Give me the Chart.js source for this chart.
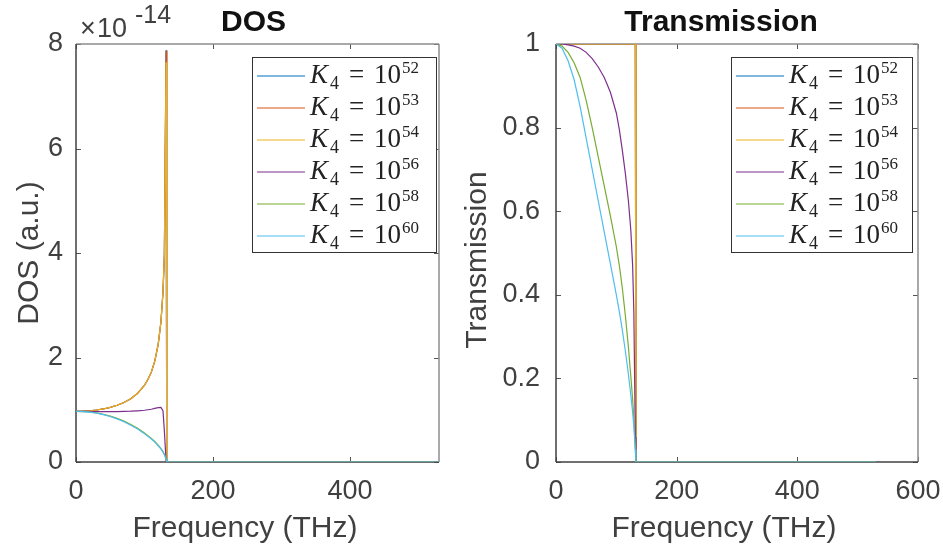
<!DOCTYPE html>
<html>
<head>
<meta charset="utf-8">
<script src="https://cdn.jsdelivr.net/npm/chart.js@4.4.1/dist/chart.umd.min.js"></script>
<style>
  html, body { margin: 0; padding: 0; background: #fff; }
  #wrap { position: relative; width: 943px; height: 549px; }
  .box { position: absolute; top: 0; height: 549px; }
  #leftBox { left: 0; width: 455px; }
  #rightBox { left: 455px; width: 488px; }
</style>
</head>
<body>
<div id="wrap">
  <div class="box" id="leftBox"><canvas id="dosChart"></canvas></div>
  <div class="box" id="rightBox"><canvas id="transChart"></canvas></div>
</div>
<script>
// frequency samples (THz), shared by every curve
const freq = [0, 10, 20, 30, 40, 50, 60, 70, 80, 90, 100, 105, 110, 115, 120, 124, 127, 129, 131.5, 132.5, 200, 300, 400, 530];

// K4 = 10^exp
const kExponents = [52, 53, 54, 56, 58, 60];
const lineColors = ['#0072BD', '#D95319', '#EDB120', '#7E2F8E', '#77AC30', '#4DBEEE'];

// DOS in units of 1e-14 (a.u.)
const dosExponent = -14;
const dos52 = [0.97, 0.972, 0.98, 0.995, 1.015, 1.045, 1.085, 1.14, 1.21, 1.315, 1.47, 1.58, 1.72, 1.93, 2.25, 2.68, 3.25, 3.95, 7.88, 0, 0, 0, 0, 0];
const dos53 = [0.97, 0.972, 0.98, 0.995, 1.015, 1.045, 1.085, 1.14, 1.21, 1.315, 1.47, 1.58, 1.72, 1.93, 2.25, 2.68, 3.25, 3.95, 7.87, 0, 0, 0, 0, 0];
const dos54 = [0.97, 0.972, 0.98, 0.995, 1.015, 1.045, 1.085, 1.14, 1.21, 1.315, 1.47, 1.58, 1.72, 1.93, 2.25, 2.68, 3.25, 3.95, 7.65, 0, 0, 0, 0, 0];
const dos56 = [0.97, 0.97, 0.968, 0.966, 0.965, 0.965, 0.966, 0.968, 0.972, 0.98, 0.99, 1.0, 1.01, 1.025, 1.04, 1.045, 0.98, 0.6, 0.02, 0, 0, 0, 0, 0];
const dos58 = [0.97, 0.966, 0.957, 0.94, 0.912, 0.878, 0.835, 0.782, 0.718, 0.645, 0.555, 0.505, 0.452, 0.392, 0.322, 0.258, 0.198, 0.15, 0.07, 0, 0, 0, 0, 0];
const dos60 = [0.97, 0.965, 0.955, 0.936, 0.906, 0.87, 0.825, 0.77, 0.705, 0.63, 0.54, 0.49, 0.44, 0.38, 0.31, 0.25, 0.19, 0.14, 0.06, 0, 0, 0, 0, 0];

// transmission
const trans52 = [1, 1, 1, 1, 1, 1, 1, 1, 1, 1, 1, 1, 1, 1, 1, 1, 1, 1, 1, 0, 0, 0, 0, 0];
const trans53 = [1, 1, 1, 1, 1, 1, 1, 1, 1, 1, 1, 1, 1, 1, 1, 1, 1, 1, 1, 0, 0, 0, 0, 0];
const trans54 = [1, 1, 1, 1, 1, 1, 1, 1, 1, 1, 1, 1, 1, 1, 1, 1, 1, 1, 1, 0, 0, 0, 0, 0];
const trans56 = [1, 1, 0.998, 0.995, 0.99, 0.98, 0.965, 0.945, 0.92, 0.885, 0.835, 0.795, 0.745, 0.69, 0.625, 0.555, 0.47, 0.36, 0.06, 0, 0, 0, 0, 0];
const trans58 = [1, 0.995, 0.98, 0.955, 0.92, 0.865, 0.8, 0.73, 0.66, 0.59, 0.515, 0.47, 0.415, 0.35, 0.275, 0.205, 0.15, 0.105, 0.03, 0, 0, 0, 0, 0];
const trans60 = [1, 0.99, 0.96, 0.915, 0.85, 0.775, 0.7, 0.625, 0.55, 0.475, 0.4, 0.36, 0.315, 0.265, 0.21, 0.16, 0.12, 0.085, 0.03, 0, 0, 0, 0, 0];

// axis ticks
const dosXTicks = [0, 200, 400];
const dosYTicks = [0, 2, 4, 6, 8];
const transXTicks = [0, 200, 400, 600];
const transYTicks = [0, 0.2, 0.4, 0.6, 0.8, 1];

const SANS = '"Liberation Sans", Arial, sans-serif';
const SERIF = '"Liberation Serif", "Times New Roman", serif';
const TEXT = '#404040';

function makeDatasets(series) {
  return series.map((ys, i) => ({
    label: 'K_4 = 10^' + kExponents[i],
    data: freq.map((f, j) => ({ x: f, y: ys[j] })),
    borderColor: lineColors[i],
    backgroundColor: lineColors[i],
    borderWidth: 1.2,
    pointRadius: 0,
    showLine: true,
    tension: 0,
    order: series.length - i   // later series drawn on top, like matlab
  }));
}

function line(ctx, x1, y1, x2, y2) {
  ctx.beginPath();
  ctx.moveTo(x1, y1);
  ctx.lineTo(x2, y2);
  ctx.stroke();
}

// matlab-like box, inward ticks, titles and legend
function matlabPlugin(cfg) {
  return {
    id: 'matlabLook',
    beforeDatasetsDraw(chart) {
      const { ctx, chartArea: a, scales } = chart;
      ctx.save();
      ctx.lineWidth = 1;
      ctx.strokeStyle = '#555';
      scales.x.ticks.forEach(t => {
        const px = Math.round(scales.x.getPixelForValue(t.value)) + 0.5;
        line(ctx, px, a.bottom, px, a.bottom - 5);
        line(ctx, px, a.top, px, a.top + 5);
      });
      scales.y.ticks.forEach(t => {
        const py = Math.round(scales.y.getPixelForValue(t.value)) + 0.5;
        line(ctx, a.left, py, a.left + 5, py);
        line(ctx, a.right, py, a.right - 5, py);
      });
      ctx.lineWidth = 1.5;
      ctx.strokeStyle = '#8c8c8c';
      line(ctx, a.left, a.top, a.right, a.top);
      line(ctx, a.right, a.top, a.right, a.bottom);
      ctx.strokeStyle = '#404040';
      line(ctx, a.left, a.top, a.left, a.bottom);
      line(ctx, a.left, a.bottom, a.right, a.bottom);
      ctx.restore();
    },
    afterDraw(chart) {
      const { ctx, chartArea: a } = chart;
      ctx.save();
      // title
      ctx.fillStyle = '#111';
      ctx.font = 'bold 30px ' + SANS;
      ctx.textAlign = 'center';
      ctx.textBaseline = 'alphabetic';
      ctx.fillText(cfg.title, cfg.titleX, 31);
      // x label
      ctx.fillStyle = TEXT;
      ctx.font = '30px ' + SANS;
      ctx.fillText('Frequency (THz)', cfg.xLabelX, 537);
      // y label
      ctx.save();
      ctx.translate(cfg.yLabelX, cfg.yLabelY);
      ctx.rotate(-Math.PI / 2);
      ctx.textBaseline = 'middle';
      ctx.fillText(cfg.yLabel, 0, 0);
      ctx.restore();
      // exponent label
      if (cfg.exponent) {
        ctx.textAlign = 'left';
        ctx.font = '27px ' + SANS;
        ctx.fillText('\u00d7', a.left + 4, 37);
        ctx.fillText('10', a.left + 21, 37);
        ctx.font = '25px ' + SANS;
        ctx.fillText(String(cfg.exponent), a.left + 59, 23);
      }
      // legend
      const bw = cfg.legendW, bh = 195;
      const bx = a.right - cfg.legendRight - bw, by = a.top + 13;
      ctx.fillStyle = '#fff';
      ctx.fillRect(bx, by, bw, bh);
      ctx.lineWidth = 1;
      ctx.strokeStyle = '#333';
      ctx.strokeRect(bx + 0.5, by + 0.5, bw, bh);
      chart.data.datasets.forEach((ds, i) => {
        const y = by + 19 + i * 32;
        ctx.strokeStyle = ds.borderColor;
        ctx.lineWidth = 1.2;
        line(ctx, bx + 5, y, bx + 53, y);
        const x = bx + 58, base = y + 7;
        ctx.fillStyle = '#222';
        ctx.textAlign = 'left';
        ctx.font = 'italic 27px ' + SERIF;
        ctx.fillText('K', x, base);
        ctx.font = '18px ' + SERIF;
        ctx.fillText('4', x + 20, base + 6);
        ctx.font = '27px ' + SERIF;
        ctx.fillText('=', x + 39, base);
        ctx.fillText('10', x + 64, base);
        ctx.font = '17px ' + SERIF;
        ctx.fillText(String(kExponents[i]), x + 92, base - 10);
      });
      ctx.restore();
    }
  };
}

function makeChart(canvasId, series, xMax, xTicks, yMax, yTicks, yWidth, padRight, cfg) {
  return new Chart(document.getElementById(canvasId), {
    type: 'scatter',
    data: { datasets: makeDatasets(series) },
    options: {
      responsive: true,
      maintainAspectRatio: false,
      animation: false,
      layout: { padding: { top: 44, right: padRight, bottom: 0, left: 0 } },
      plugins: { legend: { display: false }, tooltip: { enabled: false } },
      scales: {
        x: {
          type: 'linear',
          min: 0,
          max: xMax,
          afterBuildTicks: s => { s.ticks = xTicks.map(v => ({ value: v })); },
          afterFit: s => { s.height = 87; s.paddingLeft = 0; s.paddingRight = 0; },
          grid: { display: false, drawTicks: false },
          border: { display: false },
          ticks: { padding: 13, color: TEXT, font: { family: SANS, size: 27 }, callback: v => String(v) }
        },
        y: {
          type: 'linear',
          min: 0,
          max: yMax,
          afterBuildTicks: s => { s.ticks = yTicks.map(v => ({ value: v })); },
          afterFit: s => { s.width = yWidth; s.paddingTop = 0; s.paddingBottom = 0; },
          grid: { display: false, drawTicks: false },
          border: { display: false },
          ticks: { padding: cfg.yPad, color: TEXT, font: { family: SANS, size: 27 }, callback: v => String(v) }
        }
      }
    },
    plugins: [matlabPlugin(cfg)]
  });
}

makeChart('dosChart', [dos52, dos53, dos54, dos56, dos58, dos60], 530, dosXTicks, 8, dosYTicks, 76, 16,
  { title: 'DOS', titleX: 253.5, xLabelX: 245, yLabel: 'DOS (a.u.)', yLabelX: 30, yLabelY: 253, yPad: 13,
    exponent: dosExponent, legendW: 184, legendRight: 3 });

makeChart('transChart', [trans52, trans53, trans54, trans56, trans58, trans60], 600, transXTicks, 1, transYTicks, 101, 25,
  { title: 'Transmission', titleX: 266, xLabelX: 269, yLabel: 'Transmission', yLabelX: 23, yLabelY: 260, yPad: 16,
    exponent: null, legendW: 181, legendRight: 6 });
</script>
</body>
</html>
